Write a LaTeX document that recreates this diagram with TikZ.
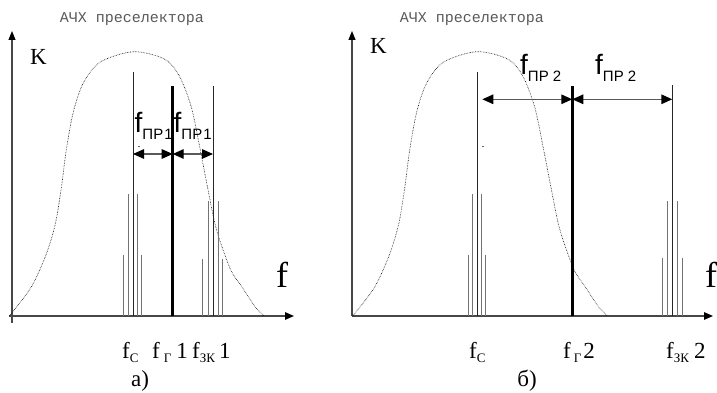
\documentclass[tikz,border=0pt]{standalone}
\usepackage{fontspec}
\setmainfont{Liberation Serif}
\newfontfamily\arialf{Liberation Sans}
\newfontfamily\monof{Liberation Mono}
\usetikzlibrary{arrows.meta}
\newcommand{\lsub}[1]{\raisebox{-4pt}{\fontsize{13}{13}\selectfont #1}}
\newcommand{\psub}[1]{\raisebox{-7pt}{\fontsize{15}{15}\selectfont #1}}
\begin{document}
\begin{tikzpicture}[x=1pt,y=-1pt,
  axisln/.style={draw=black!72, line width=1.4pt, -{Triangle[length=9pt,width=7.5pt,color=black]}},
  yaxisln/.style={draw=black!72, line width=1.1pt, -{Triangle[length=9pt,width=7pt,color=black]}},
  sidel/.style={draw=black!55, line width=1pt},
  cenl/.style={draw=black!85, line width=0.9pt},
  lol/.style={draw=black, line width=2.6pt},
  dim/.style={draw=black!65, line width=1.4pt, {Triangle[length=11pt,width=9.5pt,color=black]}-{Triangle[length=11pt,width=9.5pt,color=black]}},
  curve/.style={draw=black, densely dotted, line width=0.6pt},
  mono/.style={font=\monof\fontsize{15}{15}\selectfont, text=black!65, inner sep=0},
  lbl/.style={font=\fontsize{23}{23}\selectfont, inner sep=0, anchor=base west},
  axf/.style={font=\fontsize{36}{36}\selectfont, inner sep=0, anchor=base west},
  pr/.style={font=\arialf\fontsize{28}{28}\selectfont, inner sep=0, anchor=base west},
  captext/.style={font=\fontsize{23}{23}\selectfont, inner sep=0, anchor=base},
  bell/.pic={\draw[curve] plot[smooth, tension=0.5] coordinates {(-124,0) (-102,-29) (-87,-62) (-78,-92) (-72,-128) (-67,-166) (-60,-204) (-50,-233) (-33,-254) (0,-264.3) (31,-257) (46,-240) (58,-209) (67,-166) (74,-130) (83,-87) (97,-47) (108,-30) (122,-9) (131,0)};}
]
\useasboundingbox (0,0) rectangle (717,393);

% ================= left panel =================
\coordinate (Lyb) at (12,323);
\coordinate (Lyt) at (12,31);
\coordinate (Lxb) at (9,316);
\coordinate (Lxt) at (294,316);
\draw[yaxisln] (Lyb) -- (Lyt);
\draw[axisln] (Lxb) -- (Lxt);
\pic at (133.3,316) {bell};

% signal group
\foreach \x/\t/\n in {123.7/255/a,128.3/194/b,137/194/d,141.7/255/e}{
  \coordinate (Ls\n b) at (\x,316); \coordinate (Ls\n t) at (\x,\t);
  \draw[sidel] (Ls\n b) -- (Ls\n t);}
\coordinate (Lscb) at (133,316); \coordinate (Lsct) at (133,71.7);
\draw[cenl] (Lscb) -- (Lsct);
% LO
\coordinate (Llob) at (172.7,316); \coordinate (Llot) at (172.7,86);
\draw[lol] (Llob) -- (Llot);
% image group
\foreach \x/\t/\n in {202.7/258.5/a,208.3/201/b,218/201/d,222.7/258.5/e}{
  \coordinate (Li\n b) at (\x,316); \coordinate (Li\n t) at (\x,\t);
  \draw[sidel] (Li\n b) -- (Li\n t);}
\coordinate (Licb) at (213,316); \coordinate (Lict) at (213,85.7);
\draw[cenl] (Licb) -- (Lict);
% dimension arrows
\coordinate (La1) at (133,154); \coordinate (La2) at (172.7,154); \coordinate (La3) at (213,154);
\draw[dim] (La1) -- (La2);
\draw[dim] (La2) -- (La3);
\coordinate (Ldm1) at (138.3,146); \coordinate (Ldm2) at (140.3,146);
\draw[black!60, line width=0.8pt] (Ldm1) -- (Ldm2);
% labels
\node[mono] (Lt) at (132,19) {АЧХ преселектора};
\node[lbl] (LK) at (30,65) {K};
\node[axf] (Lf) at (276,287) {f};
\node[pr] (Lpr1) at (134.5,132) {f\psub{ПР\kern1pt 1}};
\node[pr] (Lpr2) at (173.5,132) {f\psub{ПР\kern1pt 1}};
\node[lbl] (Lfc) at (122,358) {f\lsub{C}};
\node[lbl] (Lfg) at (152,358) {f\kern4pt\lsub{Г}\kern5pt 1};
\node[lbl] (Lfz) at (192,358) {f\lsub{ЗК}\kern4pt 1};
\node[captext] (La) at (140,386) {а)};

% ================= right panel =================
\coordinate (Ryb) at (352,316);
\coordinate (Ryt) at (352,31);
\coordinate (Rxb) at (352,316);
\coordinate (Rxt) at (713,316);
\draw[yaxisln] (Ryb) -- (Ryt);
\draw[axisln] (Rxb) -- (Rxt);
\pic at (476.7,316) {bell};

\foreach \x/\t/\n in {468/255/a,472.3/194/b,481.3/194/d,485.7/255/e}{
  \coordinate (Rs\n b) at (\x,316); \coordinate (Rs\n t) at (\x,\t);
  \draw[sidel] (Rs\n b) -- (Rs\n t);}
\coordinate (Rscb) at (477,316); \coordinate (Rsct) at (477,71.7);
\draw[cenl] (Rscb) -- (Rsct);
\coordinate (Rlob) at (572.3,316); \coordinate (Rlot) at (572.3,85.7);
\draw[lol] (Rlob) -- (Rlot);
\foreach \x/\t/\n in {662.3/258.3/a,667.3/200.7/b,677.3/200.7/d,682.3/258.3/e}{
  \coordinate (Ri\n b) at (\x,316); \coordinate (Ri\n t) at (\x,\t);
  \draw[sidel] (Ri\n b) -- (Ri\n t);}
\coordinate (Ricb) at (672.3,316); \coordinate (Rict) at (672.3,85);
\draw[cenl] (Ricb) -- (Rict);
\coordinate (Ra1) at (482.3,99.3); \coordinate (Ra2) at (572.3,99.3); \coordinate (Ra3) at (672.3,99.3);
\draw[dim] (Ra1) -- (Ra2);
\draw[dim] (Ra2) -- (Ra3);
\coordinate (Rdm1) at (482.3,146); \coordinate (Rdm2) at (484.3,146);
\draw[black!60, line width=0.8pt] (Rdm1) -- (Rdm2);

\node[mono] (Rt) at (472,19) {АЧХ преселектора};
\node[lbl] (RK) at (370,53.5) {K};
\node[axf] (Rf) at (705,287) {f};
\node[pr] (Rpr1) at (520,75) {f\psub{ПР 2}};
\node[pr] (Rpr2) at (595,75) {f\psub{ПР 2}};
\node[lbl] (Rfc) at (469,358) {f\lsub{C}};
\node[lbl] (Rfg) at (563,358) {f\kern3pt\lsub{Г}\kern2pt 2};
\node[lbl] (Rfz) at (666,358) {f\lsub{ЗК}\kern5pt 2};
\node[captext] (Rb) at (527,386) {б)};
\end{tikzpicture}
\end{document}
